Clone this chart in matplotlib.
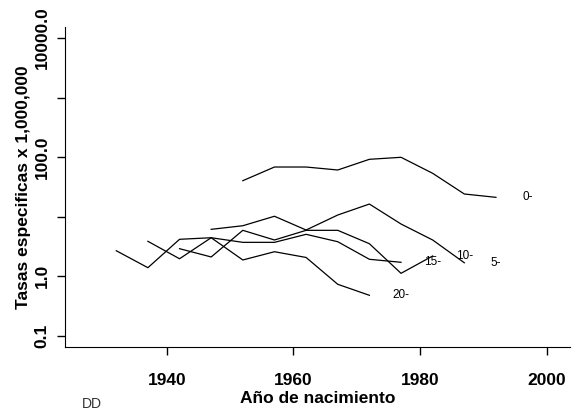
import matplotlib
matplotlib.use("Agg")
import matplotlib.pyplot as plt
import numpy as np

# cohortes (año de nacimiento) y tasas por grupo de edad
rate_0 = [40.0, 67.9, 67.9, 60.5, 91.5, 98.9, 53.2, 23.9, 21.0]
rate_5 = [6.09, 7.0, 10.1, 5.93, 10.6, 16.2, 7.48, 4.03, 1.67]
rate_10 = [2.88, 2.09, 5.86, 4.03, 5.86, 5.86, 3.49, 1.11, 2.17]
rate_15 = [3.83, 1.95, 4.40, 3.68, 3.68, 5.02, 3.77, 1.91, 1.70]
rate_20 = [2.66, 1.38, 4.14, 4.40, 1.86, 2.56, 2.05, 0.726, 0.474]

years_0 = [1952, 1957, 1962, 1967, 1972, 1977, 1982, 1987, 1992]
years_5 = [1947, 1952, 1957, 1962, 1967, 1972, 1977, 1982, 1987]
years_10 = [1942, 1947, 1952, 1957, 1962, 1967, 1972, 1977, 1982]
years_15 = [1937, 1942, 1947, 1952, 1957, 1962, 1967, 1972, 1977]
years_20 = [1932, 1937, 1942, 1947, 1952, 1957, 1962, 1967, 1972]

labels = ["0-", "5-", "10-", "15-", "20-"]
all_years = [years_0, years_5, years_10, years_15, years_20]
all_rates = [rate_0, rate_5, rate_10, rate_15, rate_20]

plt.rcParams['font.family'] = ['Liberation Sans', 'DejaVu Sans']

fig = plt.figure(figsize=(5.72, 4.12), dpi=100)
ax = fig.add_axes([65 / 572, 65 / 412, 505 / 572, 320 / 412])

for yrs, rts, lab in zip(all_years, all_rates, labels):
    ax.plot(yrs, rts, color='black', linewidth=0.9)
    ax.text(yrs[-1] + 5, rts[-1], lab, fontsize=8.5, ha='center', va='center')

ax.set_yscale('log')
ax.set_xlim(1923.9, 2003.7)
ax.set_ylim(10 ** -1.193, 10 ** 4.185)

ax.set_xticks([1940, 1960, 1980, 2000])
ax.set_xticklabels(['1940', '1960', '1980', '2000'], fontsize=12.5, fontweight='bold')
ax.set_yticks([0.1, 1, 10, 100, 1000, 10000])
ax.set_yticklabels(['0.1', '1.0', '', '100.0', '', '10000.0'], fontsize=12.5,
                   fontweight='bold', rotation=90, va='center')
ax.yaxis.set_minor_locator(matplotlib.ticker.NullLocator())

ax.spines['top'].set_visible(False)
ax.spines['right'].set_visible(False)
ax.tick_params(axis='x', direction='out', length=6, width=1, pad=13)
ax.tick_params(axis='y', direction='out', length=6, width=1, pad=5)

ax.set_xlabel('Año de nacimiento', fontsize=12.5, fontweight='bold', labelpad=2)
ax.set_ylabel('Tasas especificas x 1,000,000', fontsize=12.5, fontweight='bold', labelpad=3)

fig.text(82 / 572, 1 / 412, 'DD', fontsize=10, color='#333333', va='bottom')

fig.savefig('out.png', dpi=100)
